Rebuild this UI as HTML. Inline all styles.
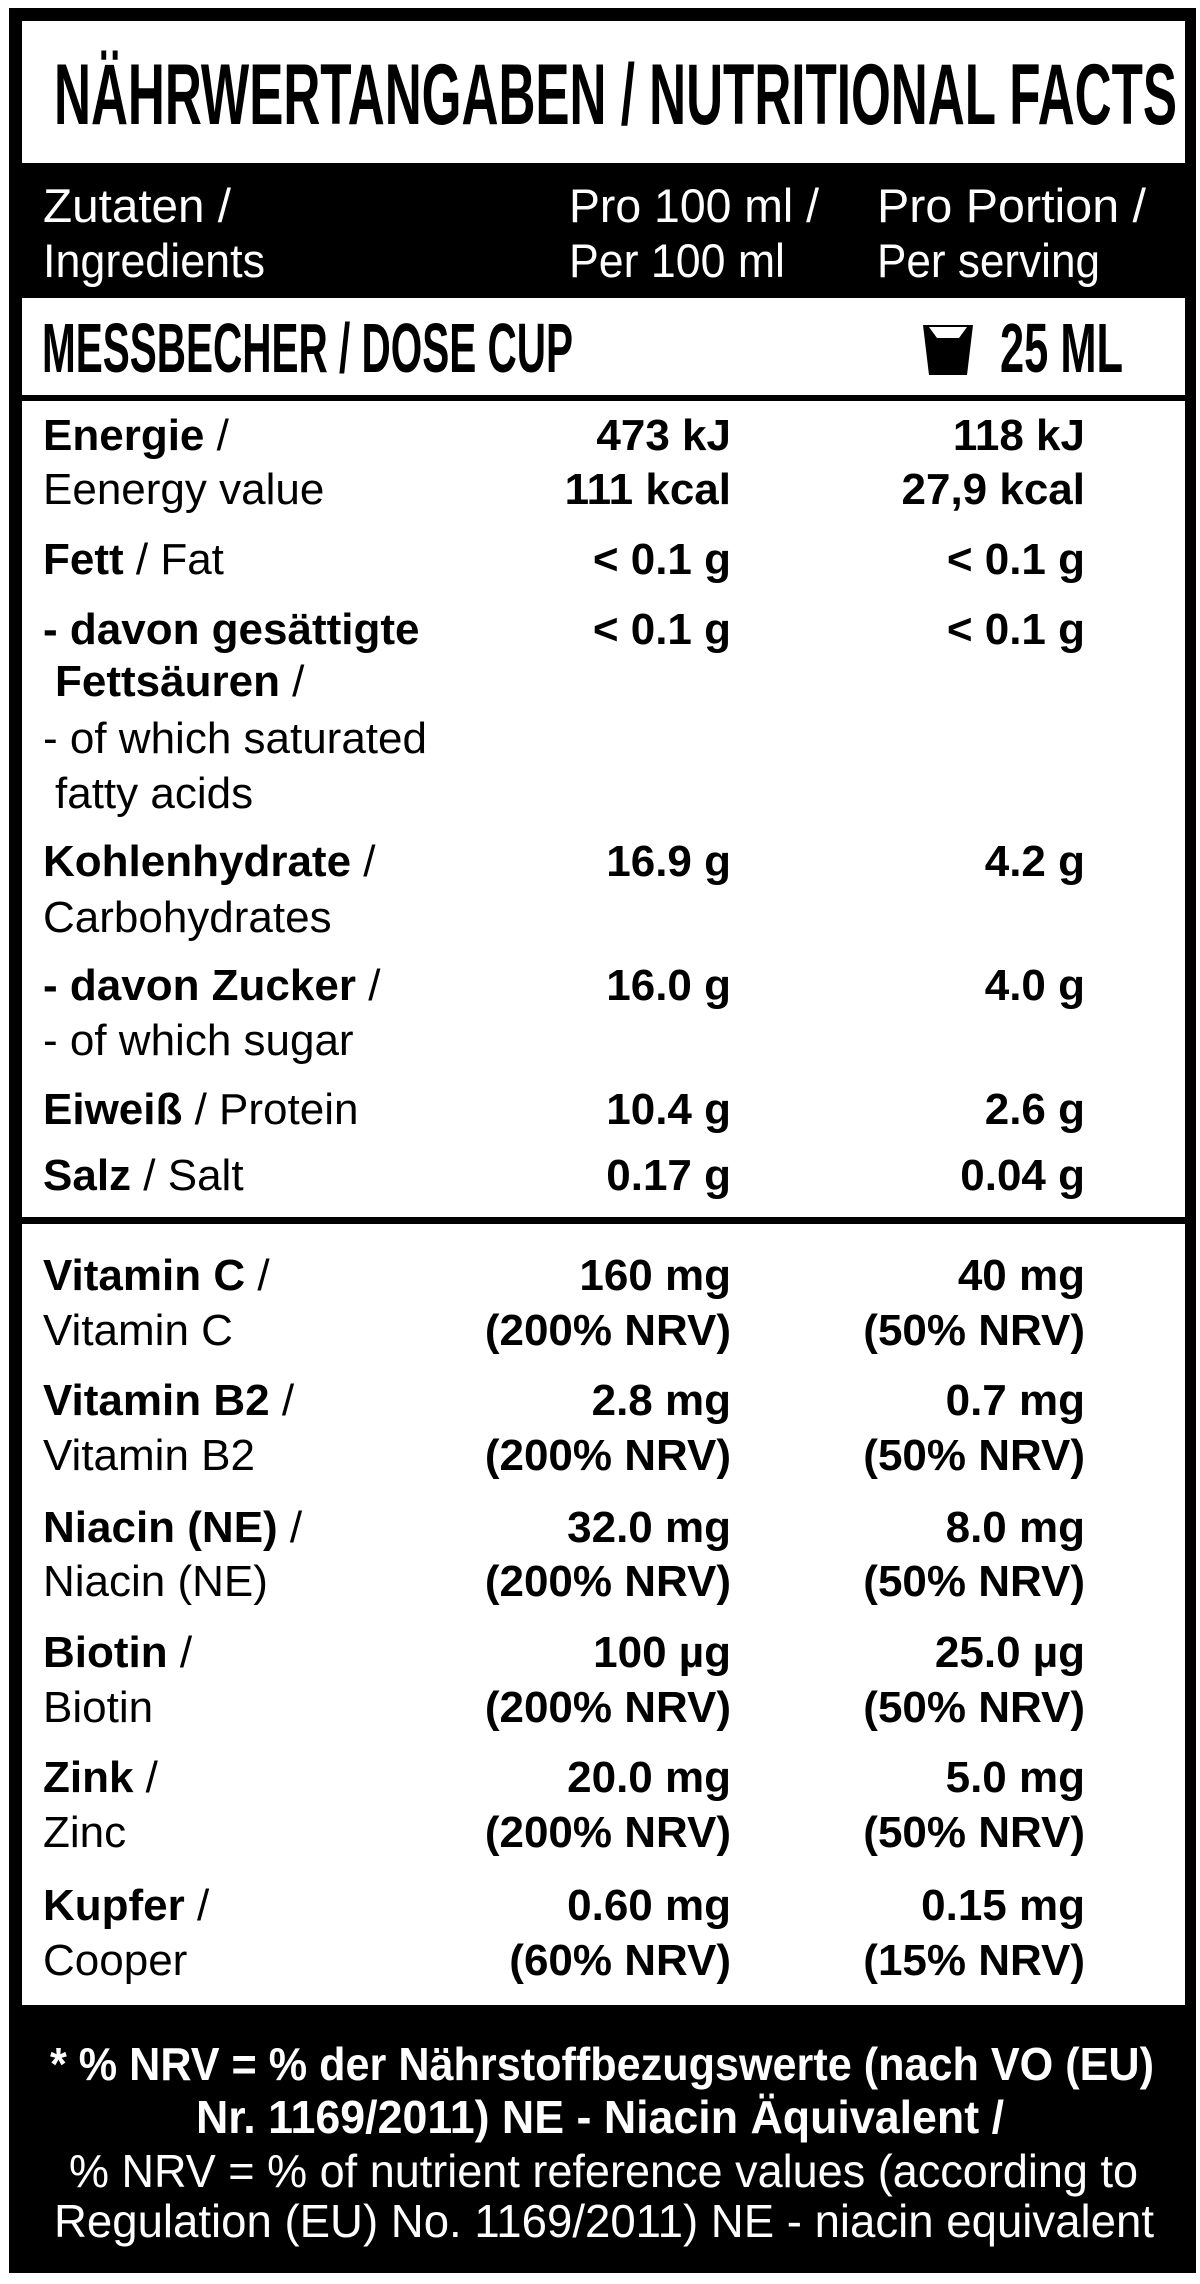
<!DOCTYPE html>
<html><head><meta charset="utf-8"><style>html,body{margin:0;padding:0;background:#fff}svg{display:block}</style></head>
<body>
<svg width="1200" height="2284" viewBox="0 0 1200 2284" xmlns="http://www.w3.org/2000/svg" font-family="'Liberation Sans', Arial, sans-serif">
<rect width="1200" height="2284" fill="#fff"/>
<rect x="9" y="8" width="1187" height="2265" fill="#000"/>
<rect x="22" y="21" width="1163" height="142" fill="#fff"/>
<rect x="22" y="298" width="1163" height="97" fill="#fff"/>
<rect x="22" y="401" width="1163" height="816" fill="#fff"/>
<rect x="22" y="1224" width="1163" height="781" fill="#fff"/>

<text x="54" y="124" font-size="86" font-weight="bold" textLength="1123" lengthAdjust="spacingAndGlyphs">NÄHRWERTANGABEN / NUTRITIONAL FACTS</text>

<g fill="#fff" font-size="47">
<text x="43" y="222" textLength="188" lengthAdjust="spacingAndGlyphs">Zutaten /</text>
<text x="43" y="277" textLength="222" lengthAdjust="spacingAndGlyphs">Ingredients</text>
<text x="569" y="222" textLength="250" lengthAdjust="spacingAndGlyphs">Pro 100 ml /</text>
<text x="569" y="277" textLength="216" lengthAdjust="spacingAndGlyphs">Per 100 ml</text>
<text x="877" y="222" textLength="269" lengthAdjust="spacingAndGlyphs">Pro Portion /</text>
<text x="877" y="277" textLength="223" lengthAdjust="spacingAndGlyphs">Per serving</text>
</g>

<text x="42" y="372" font-size="70" font-weight="bold" textLength="531" lengthAdjust="spacingAndGlyphs">MESSBECHER / DOSE CUP</text>
<polygon points="923,325 973,325 967,375 929,375" fill="#000"/>
<polygon points="929,327 937,338 959,338 967,327" fill="#fff"/>
<text x="1000" y="372" font-size="70" font-weight="bold" textLength="123" lengthAdjust="spacingAndGlyphs">25 ML</text>

<g font-size="44">
<text x="43" y="450"><tspan font-weight="bold">Energie</tspan> /</text>
<text x="43" y="504">Eenergy value</text>
<text x="43" y="574"><tspan font-weight="bold">Fett</tspan> / Fat</text>
<text x="43" y="644" font-weight="bold">- davon gesättigte</text>
<text x="55" y="696"><tspan font-weight="bold">Fettsäuren</tspan> /</text>
<text x="43" y="753">- of which saturated</text>
<text x="55" y="808">fatty acids</text>
<text x="43" y="876"><tspan font-weight="bold">Kohlenhydrate</tspan> /</text>
<text x="43" y="932">Carbohydrates</text>
<text x="43" y="1000"><tspan font-weight="bold">- davon Zucker</tspan> /</text>
<text x="43" y="1055">- of which sugar</text>
<text x="43" y="1124"><tspan font-weight="bold">Eiweiß</tspan> / Protein</text>
<text x="43" y="1190"><tspan font-weight="bold">Salz</tspan> / Salt</text>

<text x="43" y="1290"><tspan font-weight="bold">Vitamin C</tspan> /</text>
<text x="43" y="1345">Vitamin C</text>
<text x="43" y="1415"><tspan font-weight="bold">Vitamin B2</tspan> /</text>
<text x="43" y="1470">Vitamin B2</text>
<text x="43" y="1542"><tspan font-weight="bold">Niacin (NE)</tspan> /</text>
<text x="43" y="1596">Niacin (NE)</text>
<text x="43" y="1667"><tspan font-weight="bold">Biotin</tspan> /</text>
<text x="43" y="1722">Biotin</text>
<text x="43" y="1792"><tspan font-weight="bold">Zink</tspan> /</text>
<text x="43" y="1847">Zinc</text>
<text x="43" y="1920"><tspan font-weight="bold">Kupfer</tspan> /</text>
<text x="43" y="1975">Cooper</text>
</g>

<g font-size="44" font-weight="bold" text-anchor="end">
<text x="731" y="450">473 kJ</text><text x="1085" y="450">118 kJ</text>
<text x="731" y="504">111 kcal</text><text x="1085" y="504">27,9 kcal</text>
<text x="731" y="574">&lt; 0.1 g</text><text x="1085" y="574">&lt; 0.1 g</text>
<text x="731" y="644">&lt; 0.1 g</text><text x="1085" y="644">&lt; 0.1 g</text>
<text x="731" y="876">16.9 g</text><text x="1085" y="876">4.2 g</text>
<text x="731" y="1000">16.0 g</text><text x="1085" y="1000">4.0 g</text>
<text x="731" y="1124">10.4 g</text><text x="1085" y="1124">2.6 g</text>
<text x="731" y="1190">0.17 g</text><text x="1085" y="1190">0.04 g</text>

<text x="731" y="1290">160 mg</text><text x="1085" y="1290">40 mg</text>
<text x="731" y="1345">(200% NRV)</text><text x="1085" y="1345">(50% NRV)</text>
<text x="731" y="1415">2.8 mg</text><text x="1085" y="1415">0.7 mg</text>
<text x="731" y="1470">(200% NRV)</text><text x="1085" y="1470">(50% NRV)</text>
<text x="731" y="1542">32.0 mg</text><text x="1085" y="1542">8.0 mg</text>
<text x="731" y="1596">(200% NRV)</text><text x="1085" y="1596">(50% NRV)</text>
<text x="731" y="1667">100 µg</text><text x="1085" y="1667">25.0 µg</text>
<text x="731" y="1722">(200% NRV)</text><text x="1085" y="1722">(50% NRV)</text>
<text x="731" y="1792">20.0 mg</text><text x="1085" y="1792">5.0 mg</text>
<text x="731" y="1847">(200% NRV)</text><text x="1085" y="1847">(50% NRV)</text>
<text x="731" y="1920">0.60 mg</text><text x="1085" y="1920">0.15 mg</text>
<text x="731" y="1975">(60% NRV)</text><text x="1085" y="1975">(15% NRV)</text>
</g>

<g fill="#fff" font-size="46">
<text x="50" y="2080" font-weight="bold" textLength="1104" lengthAdjust="spacingAndGlyphs">* % NRV = % der Nährstoffbezugswerte (nach VO (EU)</text>
<text x="196" y="2133" font-weight="bold" textLength="808" lengthAdjust="spacingAndGlyphs">Nr. 1169/2011) NE - Niacin Äquivalent /</text>
<text x="69" y="2187" textLength="1069" lengthAdjust="spacingAndGlyphs">% NRV = % of nutrient reference values (according to</text>
<text x="54" y="2237" textLength="1100" lengthAdjust="spacingAndGlyphs">Regulation (EU) No. 1169/2011)  NE - niacin equivalent</text>
</g>
</svg>
</body></html>
